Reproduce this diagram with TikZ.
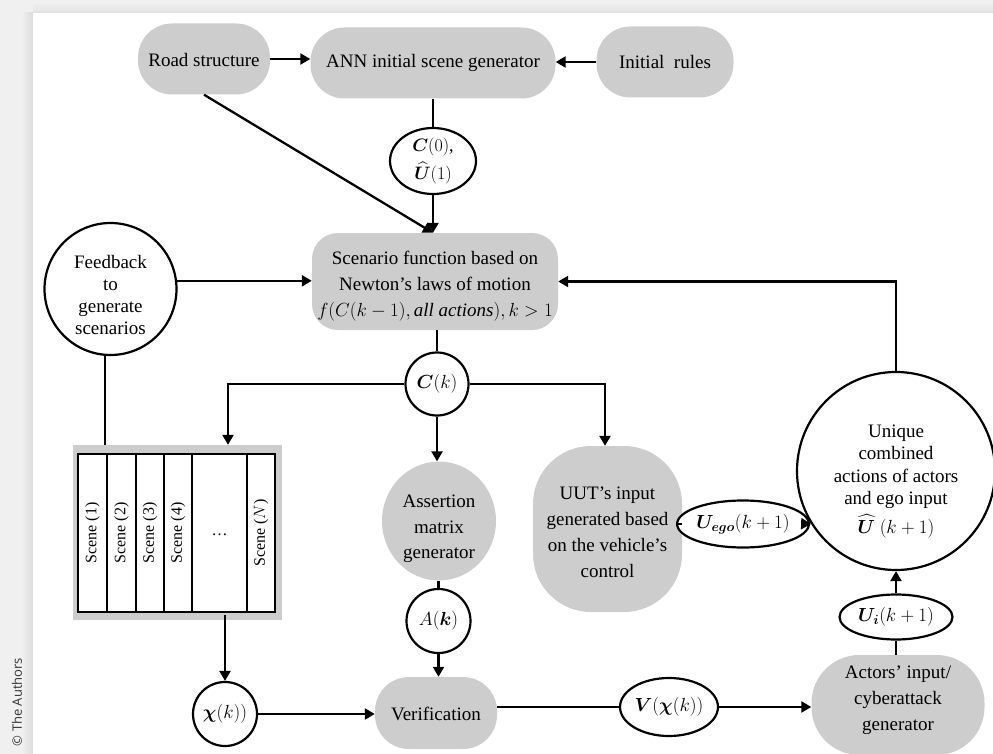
\documentclass[tikz,border=0pt]{standalone}
\usepackage{fix-cm}
\usepackage{amsmath}
\usepackage{bm}
\usepackage{fontspec}
\setmainfont{Liberation Serif}
\newfontfamily\credfont{Open Sans}
\usetikzlibrary{arrows.meta,shapes.geometric,calc}
\definecolor{nodegray}{RGB}{205,205,205}
\definecolor{bandgray}{RGB}{240,240,240}
\begin{document}
\begin{tikzpicture}[x=1pt,y=-1pt,
  txt/.style={font=\fontsize{19}{26}\selectfont, align=center, inner sep=0pt},
  graybox/.style={txt, fill=nodegray, draw=none, rectangle},
  grayell/.style={txt, fill=nodegray, draw=none, ellipse},
  circ/.style={txt, draw=black, line width=2.2pt, circle, fill=white},
  ell/.style={txt, draw=black, line width=2.2pt, ellipse, fill=white},
  conn/.style={line width=2.3pt, draw=black},
  arr/.style={conn, -{Triangle[length=10pt,width=11pt]}},
  scenetxt/.style={font=\fontsize{16}{18}\selectfont, rotate=90, inner sep=0pt}
]
\useasboundingbox (0,0) rectangle (993,754);
% background page
\fill[bandgray] (0,0) rectangle (993,754);
\shade[left color=bandgray, right color=black!14] (22,13) rectangle (33,754);
\shade[top color=bandgray, bottom color=black!12] (33,3) rectangle (993,13);
\fill[white] (33,13) rectangle (993,754);
\node[font=\credfont\fontsize{13}{15}\selectfont, text=black!80, rotate=90, inner sep=0pt] (cred) at (17,702) {\textcopyright\ The Authors};

% top row
\node[graybox, minimum width=132pt, minimum height=71pt, rounded corners=34pt] (road) at (204,59) {\rule{0pt}{16pt}Road structure};
\node[graybox, minimum width=245pt, minimum height=71pt, rounded corners=34pt] (ann) at (433,63) {ANN initial scene generator};
\node[graybox, minimum width=137pt, minimum height=71pt, rounded corners=34pt] (init) at (665,62) {Initial\ \ rules};

\node[ell, minimum width=86pt, minimum height=66pt, font=\fontsize{18}{25}\selectfont] (c0) at (433,161) {$\bm{C}(0)$,\\[3pt]$\widehat{\bm{U}}(1)$};

\node[graybox, minimum width=246pt, minimum height=97pt, rounded corners=26pt] (scen) at (435,281.5) {\rule{0pt}{23pt}Scenario function based on\\Newton's laws of motion\\$f(C(k-1),\textit{all actions}),k>1$};

\node[circ, minimum size=132pt, font=\fontsize{19}{22}\selectfont] (fb) at (110.5,289) {\rule{0pt}{25pt}Feedback\\to\\generate\\scenarios};

\node[circ, minimum size=63pt] (ck) at (437,384) {$\bm{C}(k)$};

% scenes block
\node[fill=nodegray, minimum width=209pt, minimum height=175pt, inner sep=0pt] (scenes) at (177.5,532.5) {};
\fill[white] (78,454) rectangle (275,612);
\draw[line width=2pt] (78,454) rectangle (275,612);
\foreach \xx in {107,136,164,192,247} \draw[line width=2pt] (\xx,454) -- (\xx,612);
\node[scenetxt] (s1) at (92.5,533) {Scene (1)};
\node[scenetxt] (s2) at (121.5,533) {Scene (2)};
\node[scenetxt] (s3) at (150,533) {Scene (3)};
\node[scenetxt] (s4) at (178,533) {Scene (4)};
\node[font=\fontsize{16}{18}\selectfont, inner sep=0pt] (sdots) at (219.5,535) {\dots};
\node[scenetxt] (sn) at (261,533) {Scene ($N$)};

\node[grayell, minimum width=114pt, minimum height=106pt, font=\fontsize{19}{25.5}\selectfont] (assert) at (439,521) {\rule{0pt}{29pt}Assertion\\matrix\\generator};
\node[circ, minimum size=64pt] (ak) at (438.5,621) {$A(\bm{k})$};
\node[graybox, minimum width=122pt, minimum height=72pt, rounded corners=34pt] (ver) at (436,713) {\rule{0pt}{16pt}Verification};
\node[circ, minimum size=64pt] (chi) at (225,714) {$\bm{\chi}(k))$};

\node[graybox, minimum width=149pt, minimum height=166pt, rounded corners=58pt] (uut) at (607.5,529) {\rule{0pt}{19pt}UUT's input\\generated based\\on the vehicle's\\control};
\node[ell, minimum width=93pt, minimum height=47pt, inner sep=0pt] (uego) at (743,524) {$\bm{U}_{\bm{ego}}(k+1)$};

\node[circ, minimum size=198pt, font=\fontsize{19}{22.5}\selectfont] (unique) at (896,471) {\rule{0pt}{33pt}Unique\\combined\\actions of actors\\and ego input\\[5pt]$\widehat{\bm{U}}\ (k+1)$};
\node[ell, minimum width=113pt, minimum height=45pt] (ui) at (896,617) {$\bm{U_i}(k+1)$};
\node[graybox, minimum width=173pt, minimum height=100pt, rounded corners=48pt] (actors) at (898,705) {Actors' input/\\cyberattack\\generator\rule[-13pt]{0pt}{0pt}};
\node[ell, minimum width=98pt, minimum height=58pt] (vv) at (669,707) {$\bm{V}(\bm{\chi}(k))$};

% connectors
\draw[arr] (road.east) -- (road.east -| ann.west);
\draw[arr] (init.west) -- (init.west -| ann.east);
\draw[conn] (ann.south -| c0.north) -- (c0.north);
\draw[arr] (c0.south) -- (c0.south |- scen.north);
\draw[arr] (road.south) -- (c0.south |- scen.north);
\draw[arr] (fb.7) -- (fb.7 -| scen.west);
\draw[conn] (fb.265) -- (fb.265 |- scenes.north);
\draw[conn] (ck.north |- scen.south) -- (ck.north);
\draw[arr] (ck.west) -| ([xshift=50.5pt]scenes.north);
\draw[arr] (ck.east) -| (uut.north -| 605,0);
\draw[arr] (ck.south) -- (ck.south |- assert.north);
\draw[conn] (ak.north |- assert.south) -- (ak.north);
\draw[arr] (ak.south) -- (ak.south |- ver.north);
\draw[arr] ([yshift=5pt]chi.north |- scenes.south) -- (chi.north);
\draw[arr] (chi.east) -- (chi.east -| ver.west);
\draw[conn] (vv.west -| ver.east) -- (vv.west);
\draw[arr] (vv.east) -- (vv.east -| actors.west);
\draw[conn] (uego.west -| uut.east) -- (uego.west);
\draw[arr] (uego.east) -- (unique.212);
\draw[conn] (actors.north -| ui.south) -- (ui.south);
\draw[arr] (ui.north) -- (unique.south);
\draw[arr] (unique.north) |- (scen.east);
\end{tikzpicture}
\end{document}
